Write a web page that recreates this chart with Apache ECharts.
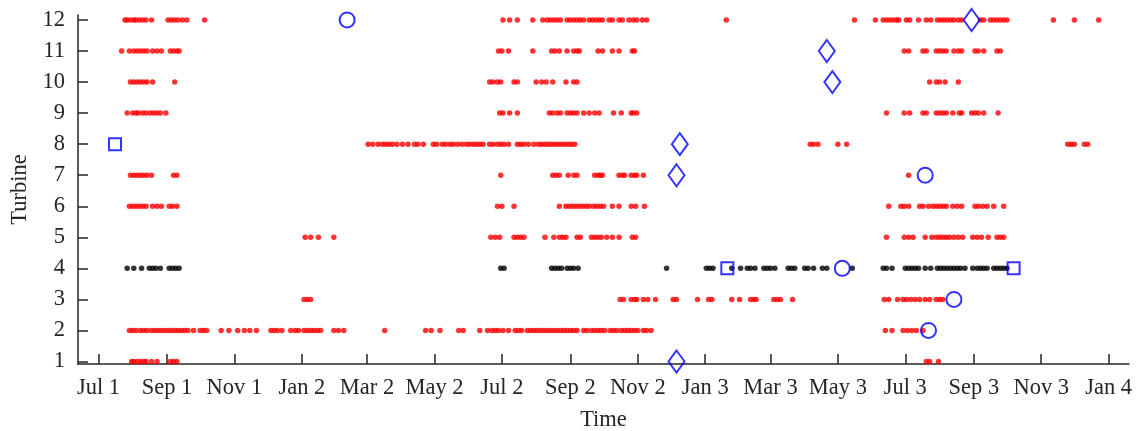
<!DOCTYPE html>
<html>
<head>
<meta charset="utf-8">
<script src="https://cdn.jsdelivr.net/npm/echarts@6/dist/echarts.min.js"></script>
<style>
  html, body { margin: 0; padding: 0; background: #fff; }
  #graph { width: 1140px; height: 431px; }
</style>
</head>
<body>
<div id="graph"></div>
<script>
// x values are days counted from "Jul 1" (first year)
var tickDays = [0, 62, 123, 184, 243, 304, 365, 427, 488, 549, 608, 669, 730, 792, 853, 914];
var tickLabels = ['Jul 1', 'Sep 1', 'Nov 1', 'Jan 2', 'Mar 2', 'May 2', 'Jul 2', 'Sep 2',
  'Nov 2', 'Jan 3', 'Mar 3', 'May 3', 'Jul 3', 'Sep 3', 'Nov 3', 'Jan 4'];
var turbines = [1, 2, 3, 4, 5, 6, 7, 8, 9, 10, 11, 12];

// red events, one list of days per turbine
var red12 = [24, 26, 29, 32, 34, 37, 40, 43, 48, 63, 66, 69, 72, 76, 80, 96, 366, 372, 379, 393, 402, 406, 409,
  412, 415, 418, 424, 427, 430, 433, 436, 439, 444, 447, 450, 453, 456, 462, 465, 471, 474, 480, 484, 487, 492,
  496, 568, 684, 703, 710, 713, 716, 719, 722, 724, 731, 734, 742, 749, 753, 759, 762, 765, 768, 771, 774, 778,
  781, 798, 801, 807, 810, 813, 816, 819, 822, 864, 883, 905];
var red11 = [21, 28, 32, 35, 38, 41, 44, 49, 53, 57, 65, 68, 71, 73, 362, 365, 371, 393, 410, 413, 417, 424, 430,
  433, 435, 452, 456, 465, 471, 483, 485, 729, 733, 746, 749, 758, 761, 764, 767, 774, 778, 781, 793, 796, 801,
  813, 816];
var red10 = [29, 32, 35, 38, 41, 44, 49, 69, 354, 357, 361, 364, 376, 379, 396, 401, 405, 411, 423, 430, 433,
  752, 758, 761, 766, 778];
var red9 = [26, 31, 34, 36, 40, 43, 47, 50, 53, 56, 61, 363, 366, 372, 379, 408, 411, 415, 418, 424, 427, 430,
  433, 439, 444, 449, 453, 466, 473, 482, 484, 487, 713, 729, 734, 746, 749, 758, 761, 764, 767, 773, 779, 781,
  790, 793, 796, 801, 814];
var red8 = [244, 248, 253, 257, 260, 263, 266, 270, 275, 280, 286, 289, 294, 303, 306, 311, 314, 318, 321, 325,
  329, 333, 336, 339, 342, 345, 348, 354, 357, 361, 364, 367, 371, 379, 382, 385, 389, 394, 398, 401, 404, 407,
  410, 413, 416, 419, 422, 425, 428, 431, 644, 647, 651, 669, 677, 877, 880, 883, 892, 895];
var red7 = [29, 32, 35, 38, 41, 44, 48, 68, 71, 364, 411, 414, 417, 425, 430, 433, 449, 452, 454, 456, 471, 474,
  476, 482, 485, 487, 493, 733];
var red6 = [28, 31, 34, 37, 40, 43, 49, 53, 57, 64, 67, 71, 361, 365, 376, 417, 423, 426, 429, 432, 435, 438,
  441, 444, 448, 451, 454, 457, 465, 471, 482, 486, 494, 715, 726, 729, 733, 743, 746, 751, 755, 758, 761, 764,
  767, 773, 777, 781, 793, 796, 800, 804, 810, 819];
var red5 = [187, 192, 199, 213, 355, 359, 363, 376, 379, 382, 385, 404, 412, 417, 420, 423, 433, 436, 446, 449,
  452, 455, 460, 465, 471, 483, 486, 713, 729, 733, 737, 748, 754, 758, 761, 764, 767, 770, 774, 778, 782, 791,
  795, 799, 805, 813, 816, 819];
var red3 = [186, 189, 192, 472, 475, 482, 485, 487, 493, 497, 504, 520, 523, 542, 552, 555, 573, 580, 590, 593,
  595, 611, 614, 617, 628, 711, 715, 723, 728, 731, 735, 739, 743, 748, 752, 758, 761, 764];
var red2 = [28, 31, 34, 38, 41, 44, 48, 51, 54, 57, 60, 63, 66, 69, 72, 75, 78, 81, 86, 92, 95, 98, 111, 118,
  126, 132, 137, 143, 156, 159, 162, 166, 174, 178, 181, 186, 189, 192, 195, 198, 201, 213, 217, 222, 259, 296,
  301, 309, 326, 330, 345, 352, 356, 359, 362, 366, 371, 377, 380, 383, 388, 391, 394, 397, 400, 403, 406, 409,
  412, 415, 418, 421, 424, 427, 430, 433, 439, 442, 446, 449, 452, 455, 458, 463, 466, 469, 473, 476, 479, 482,
  485, 488, 493, 496, 500, 712, 718, 728, 732, 736, 740, 746];
var red1 = [30, 32, 35, 38, 41, 43, 48, 53, 65, 68, 71, 749, 752, 760];

// black events on turbine 4
var black4 = [26, 32, 39, 46, 49, 52, 56, 64, 67, 70, 73, 364, 367, 410, 413, 416, 419, 424, 427, 430, 434, 514,
  550, 553, 556, 573, 581, 587, 590, 594, 602, 605, 608, 612, 624, 627, 630, 639, 642, 647, 655, 659, 682, 710,
  713, 718, 730, 733, 736, 739, 742, 748, 753, 759, 762, 765, 768, 771, 774, 777, 780, 784, 791, 795, 798, 801,
  804, 810, 813, 816, 819, 822];

// blue markers: [day, turbine]
var circles = [[225, 12], [748, 7], [673, 4], [774, 3], [751, 2]];
var squares = [[15, 8], [569, 4], [828, 4]];
var diamonds = [[790, 12], [659, 11], [664, 10], [526, 8], [523, 7], [523, 1]];

var redRows = [[1, red1], [2, red2], [3, red3], [5, red5], [6, red6], [7, red7], [8, red8],
  [9, red9], [10, red10], [11, red11], [12, red12]];
var redPoints = [];
redRows.forEach(r => r[1].forEach(d => redPoints.push([d, r[0]])));
var blackPoints = black4.map(d => [d, 4]);

var textColor = '#262626';
var font = 'Liberation Serif';

var chart = echarts.init(document.getElementById('graph'));
var blueStyle = { color: 'rgba(0,0,0,0)', borderColor: '#0000ff', borderWidth: 2 };

chart.setOption({
  animation: false,
  grid: { left: 78, right: 11, top: 15, bottom: 67, outerBoundsMode: 'none' },
  xAxis: {
    type: 'value',
    min: -18.5,
    max: 932.4,
    name: 'Time',
    nameLocation: 'middle',
    nameGap: 45,
    nameTextStyle: { fontFamily: font, fontSize: 22.5, color: textColor },
    splitLine: { show: false },
    axisLine: { onZero: false, lineStyle: { color: textColor, width: 1.5 } },
    axisTick: { inside: true, length: 10, customValues: tickDays, lineStyle: { color: textColor, width: 1.5 } },
    axisLabel: {
      customValues: tickDays,
      formatter: v => tickLabels[tickDays.indexOf(v)],
      fontFamily: font, fontSize: 22.5, color: textColor, margin: 13
    }
  },
  yAxis: {
    type: 'value',
    min: 0.92,
    max: 12.16,
    name: 'Turbine',
    nameLocation: 'middle',
    nameGap: 44,
    nameTextStyle: { fontFamily: font, fontSize: 22.5, color: textColor },
    splitLine: { show: false },
    axisLine: { onZero: false, lineStyle: { color: textColor, width: 1.5 } },
    axisTick: { inside: true, length: 10, customValues: turbines, lineStyle: { color: textColor, width: 1.5 } },
    axisLabel: {
      customValues: turbines,
      fontFamily: font, fontSize: 22.5, color: textColor, margin: 13
    }
  },
  series: [
    { type: 'scatter', data: redPoints, symbol: 'circle', symbolSize: 5.5, itemStyle: { color: '#ff0000' } },
    { type: 'scatter', data: blackPoints, symbol: 'circle', symbolSize: 5.5, itemStyle: { color: '#000000' } },
    { type: 'scatter', data: circles, symbol: 'circle', symbolSize: 15, itemStyle: blueStyle },
    { type: 'scatter', data: squares, symbol: 'rect', symbolSize: 12, itemStyle: blueStyle },
    { type: 'scatter', data: diamonds, symbol: 'diamond', symbolSize: [16, 22], itemStyle: blueStyle }
  ]
});
</script>
</body>
</html>
